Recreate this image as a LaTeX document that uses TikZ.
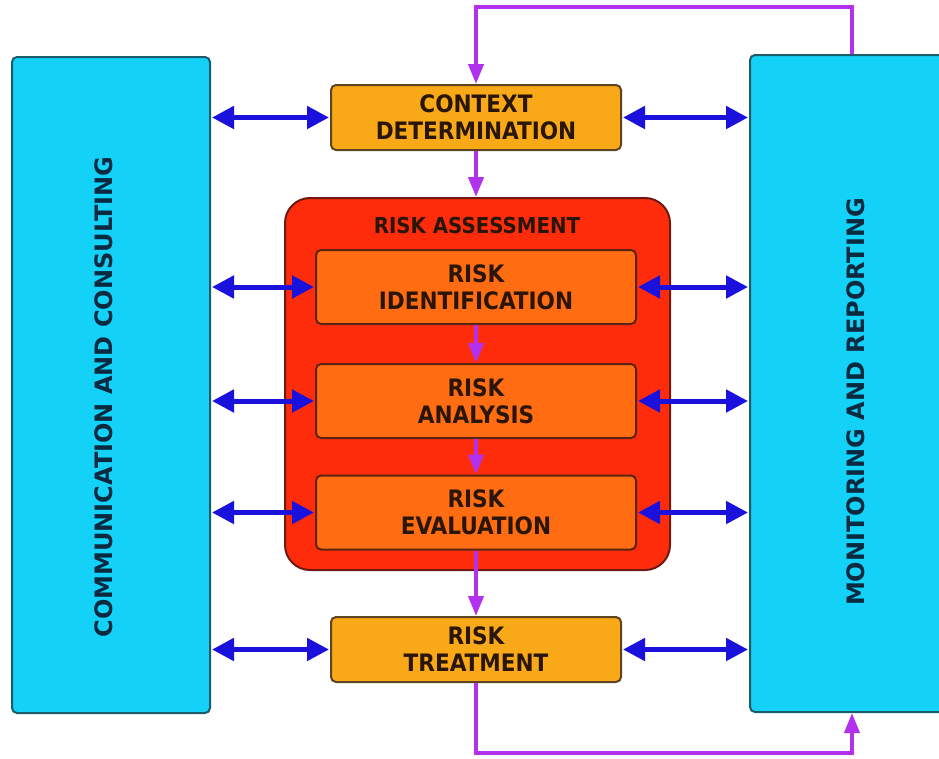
\documentclass[tikz,border=0pt]{standalone}
\usepackage{fontspec}
\setmainfont{DejaVu Sans}
\newfontfamily\condbold{DejaVu Sans Condensed}[BoldFont={DejaVu Sans Condensed Bold}]
\usetikzlibrary{arrows.meta}
\definecolor{cyanbox}{HTML}{14D2F7}
\definecolor{cyanedge}{HTML}{1D5C6B}
\definecolor{ambox}{HTML}{F9A818}
\definecolor{amedge}{HTML}{5E4420}
\definecolor{redbox}{HTML}{FF2C0C}
\definecolor{rededge}{HTML}{6E1A0E}
\definecolor{orbox}{HTML}{FF6C12}
\definecolor{oredge}{HTML}{5A2410}
\definecolor{bluearr}{HTML}{1A12DC}
\definecolor{purarr}{HTML}{B231EE}
\definecolor{txtdark}{HTML}{2A1608}
\definecolor{txtnavy}{HTML}{0B2A40}
\begin{document}
\begin{tikzpicture}[x=1pt,y=-1pt,
  sidebox/.style={draw=cyanedge, line width=2pt, fill=cyanbox, rounded corners=5pt},
  stagebox/.style={draw=amedge, line width=2pt, fill=ambox, rounded corners=5pt,
    minimum width=290pt, minimum height=65pt, align=center, text=txtdark,
    font=\condbold\bfseries\fontsize{24}{27}\selectfont},
  innerbox/.style={draw=oredge, line width=2pt, fill=orbox, rounded corners=5pt,
    minimum width=320pt, minimum height=74pt, align=center, text=txtdark,
    font=\condbold\bfseries\fontsize{24}{27}\selectfont},
  assessbox/.style={draw=rededge, line width=2pt, fill=redbox, rounded corners=25pt,
    minimum width=385pt, minimum height=372pt},
  sidelabel/.style={rotate=90, text=txtnavy, font=\bfseries\fontsize{24}{27}\selectfont},
  barrow/.style={draw=bluearr, line width=5pt, {Triangle[length=22pt,width=22pt]}-{Triangle[length=22pt,width=22pt]}, shorten <=1pt, shorten >=1pt},
  parrow/.style={draw=purarr, line width=4pt, -{Triangle[length=20pt,width=15pt]}}
]
\clip (0,0) rectangle (939,758);
\fill[white] (0,0) rectangle (939,758);

% side boxes
\node[sidebox, minimum width=198pt, minimum height=656pt] (comm) at (111,385) {};
\node[sidebox, minimum width=204pt, minimum height=657pt] (mon) at (852,383.5) {};
\node[sidelabel] (commlbl) at (104,397) {COMMUNICATION AND CONSULTING};
\node[sidelabel] (monlbl) at (856,402) {MONITORING AND REPORTING};

% central boxes
\node[stagebox] (ctx) at (476,117.5) {CONTEXT\\DETERMINATION};
\node[assessbox] (ra) at (477.5,384) {};
\node[text=txtdark, font=\condbold\bfseries\fontsize{22}{26}\selectfont] (ratitle) at (477,225) {RISK ASSESSMENT};
\node[innerbox] (rid) at (476,287) {RISK\\IDENTIFICATION};
\node[innerbox] (ran) at (476,401) {RISK\\ANALYSIS};
\node[innerbox] (rev) at (476,512.5) {RISK\\EVALUATION};
\node[stagebox] (trt) at (476,649.5) {RISK\\TREATMENT};

% purple flow arrows
\draw[parrow] (ctx.south) -- (ra.north -| ctx.south);
\draw[parrow] (rid.south) -- (ran.north);
\draw[parrow] (ran.south) -- (rev.north);
\draw[parrow] (rev.south) -- (trt.north);
\draw[parrow] (mon.north) -- ++(0,-47) -| (ctx.north);
\draw[parrow] (trt.south) -- ++(0,70) -| (mon.south);

% blue two-way arrows
\foreach \n in {ctx,rid,ran,rev,trt}{
  \draw[barrow] (comm.east |- \n.west) -- (\n.west);
  \draw[barrow] (\n.east) -- (mon.west |- \n.east);
}
\end{tikzpicture}
\end{document}
